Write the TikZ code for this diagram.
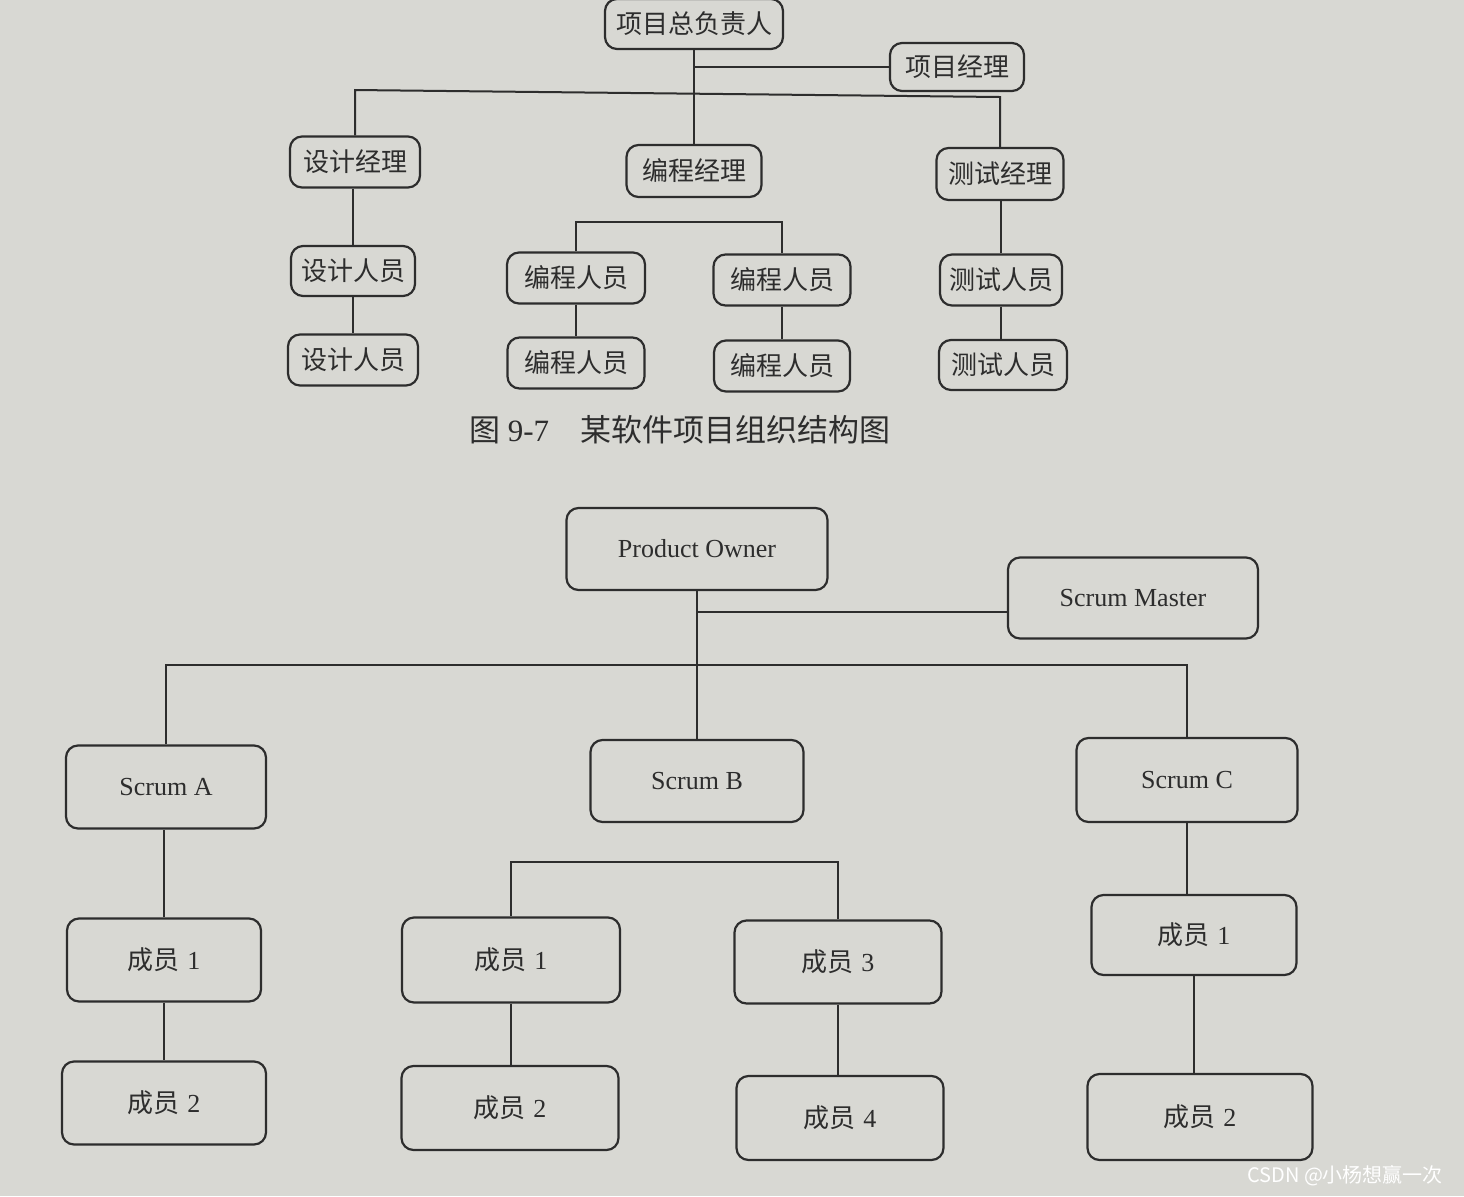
\documentclass[tikz,border=0pt]{standalone}
\usepackage{fontspec}
\setmainfont{Liberation Serif}
\newfontfamily\cjk{Noto Sans CJK SC}
\newcommand\mem[1]{{\cjk 成员}\hspace{0.3em}#1}
\definecolor{paper}{RGB}{216,216,211}
\definecolor{ink}{RGB}{45,45,45}
\tikzset{
  box/.style={draw=ink, line width=1.1pt, rounded corners=6pt, fill=paper,
    inner sep=0pt, font=\cjk\fontsize{13}{15}\selectfont, text=ink},
  lbox/.style={box, font=\fontsize{13}{15}\selectfont},
  link/.style={draw=ink, line width=1pt},
}
\begin{document}
\begin{tikzpicture}[x=0.5pt,y=-0.5pt]
\fill[paper] (0,0) rectangle (1464,1196);
\useasboundingbox (0,0) rectangle (1464,1196);
% ---------- top chart ----------
\node[box, minimum width=89pt, minimum height=25pt] (zf) at (694,24) {项目总负责人};
\node[box, minimum width=67pt, minimum height=24pt] (pm) at (957,67) {项目经理};
\node[box, minimum width=65pt, minimum height=25.5pt] (d1) at (355,162) {设计经理};
\node[box, minimum width=67.5pt, minimum height=26pt] (c1) at (694,171) {编程经理};
\node[box, minimum width=63.5pt, minimum height=26pt] (t1) at (1000,174) {测试经理};
\node[box, minimum width=62pt, minimum height=25pt] (d2) at (353,271) {设计人员};
\node[box, minimum width=65pt, minimum height=25.5pt] (d3) at (353,360) {设计人员};
\node[box, minimum width=69pt, minimum height=25.5pt] (c2) at (576,278) {编程人员};
\node[box, minimum width=68.5pt, minimum height=25.5pt] (c3) at (782,280) {编程人员};
\node[box, minimum width=68.5pt, minimum height=25.5pt] (c4) at (576,363) {编程人员};
\node[box, minimum width=68pt, minimum height=25.5pt] (c5) at (782,366) {编程人员};
\node[box, minimum width=61pt, minimum height=25.5pt] (t2) at (1001,280) {测试人员};
\node[box, minimum width=64pt, minimum height=25pt] (t3) at (1003,365) {测试人员};
\coordinate (jl) at (355,90);
\coordinate (jr) at (1000,97);
\coordinate (jc) at (694,222);
\draw[link] (zf) -- (c1);
\draw[link] (pm.west) -- (pm.west -| zf.south);
\draw[link] (d1.north) -- (jl) -- (jr) -- (t1.north);
\draw[link] (d2.north) -- (d2.north |- d1.south);
\draw[link] (d2) -- (d3);
\draw[link] (c2.north) |- (jc) -| (c3.north);
\draw[link] (c2) -- (c4);
\draw[link] (c3) -- (c5);
\draw[link] (t2.north) -- (t2.north |- t1.south);
\draw[link] (t2.south) -- (t2.south |- t3.north);
\node[text=ink, font=\cjk\fontsize{15.5}{18}\selectfont] (cap) at (680,430) {图 {\rmfamily 9-7}\hspace{1em}某软件项目组织结构图};
% ---------- bottom chart ----------
\node[lbox, minimum width=130.5pt, minimum height=41pt] (po) at (697,549) {Product Owner};
\node[lbox, minimum width=125pt, minimum height=40.5pt] (sm) at (1133,598) {Scrum Master};
\node[lbox, minimum width=100pt, minimum height=41.5pt] (sa) at (166,787) {Scrum A};
\node[lbox, minimum width=106.5pt, minimum height=41pt] (sb) at (697,781) {Scrum B};
\node[lbox, minimum width=110.5pt, minimum height=42pt] (sc) at (1187,780) {Scrum C};
\node[lbox, minimum width=97pt, minimum height=41.5pt] (a1) at (164,960) {\mem{1}};
\node[lbox, minimum width=102pt, minimum height=41.5pt] (a2) at (164,1103) {\mem{2}};
\node[lbox, minimum width=109pt, minimum height=42.5pt] (b1) at (511,960) {\mem{1}};
\node[lbox, minimum width=103.5pt, minimum height=41.5pt] (b3) at (838,962) {\mem{3}};
\node[lbox, minimum width=108.5pt, minimum height=42pt] (b2) at (510,1108) {\mem{2}};
\node[lbox, minimum width=103.5pt, minimum height=42pt] (b4) at (840,1118) {\mem{4}};
\node[lbox, minimum width=102.5pt, minimum height=40pt] (k1) at (1194,935) {\mem{1}};
\node[lbox, minimum width=112.5pt, minimum height=43pt] (k2) at (1200,1117) {\mem{2}};
\coordinate (jb) at (697,665);
\coordinate (jb2) at (697,862);
\coordinate (jsm) at (697,612);
\draw[link] (po) -- (sb);
\draw[link] (sm.west |- jsm) -- (jsm);
\draw[link] (sa.north) |- (jb) -| (sc.north);
\draw[link] (a1.north) -- (a1.north |- sa.south);
\draw[link] (a1) -- (a2);
\draw[link] (b1.north) |- (jb2) -| (b3.north);
\draw[link] (b1.south) -- (b1.south |- b2.north);
\draw[link] (b3.south) -- (b3.south |- b4.north);
\draw[link] (sc.south) -- (sc.south |- k1.north);
\draw[link] (k1.south) -- (k1.south |- k2.north);
% watermark
\node[anchor=east, text=white, font=\cjk\fontsize{10}{12}\selectfont] (wm) at (1450,1176) {CSDN @小杨想赢一次};
\end{tikzpicture}
\end{document}
